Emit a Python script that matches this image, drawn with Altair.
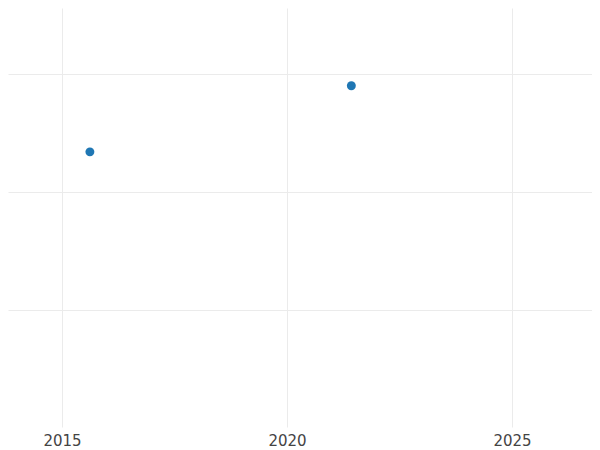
import altair as alt
import pandas as pd

years = [2015.62, 2021.43]
values = [23.4, 29.0]
x_ticks = [2015, 2020, 2025]
y_ticks = [10, 20, 30]

df = pd.DataFrame({"year": years, "value": values})

chart = alt.Chart(df).mark_point(filled=True, size=80, color="#1f77b4", opacity=1).encode(
    x=alt.X("year:Q", scale=alt.Scale(domain=[2013.8, 2026.778], nice=False, zero=False),
            axis=alt.Axis(values=x_ticks, format="d", title=None, domain=False, ticks=False,
                          labelPadding=6, labelFontSize=15, labelColor="#444444",
                          labelFont="DejaVu Sans", gridColor="#ebebeb", labelFlush=False)),
    y=alt.Y("value:Q", scale=alt.Scale(domain=[0.085, 35.59], nice=False, zero=False),
            axis=alt.Axis(values=y_ticks, title=None, domain=False, ticks=False, labels=False,
                          gridColor="#ebebeb")),
).properties(
    width=584, height=419,
    autosize=alt.AutoSizeParams(type="none"),
    padding={"left": 0, "top": 0, "right": 0, "bottom": 22},
).configure_view(stroke=None)

chart.save("out.html", embed_options={"renderer": "svg", "actions": False})
